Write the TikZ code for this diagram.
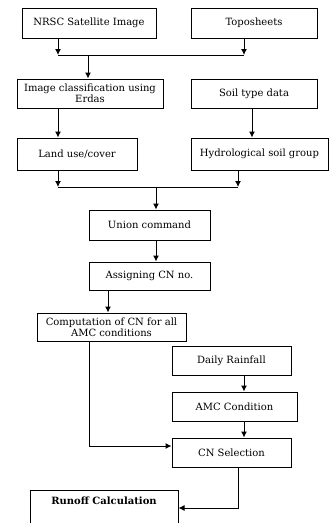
\documentclass[tikz,border=0pt]{standalone}
\usepackage{fontspec}
\setmainfont{DejaVu Serif}
\usepackage{tikz}
\usetikzlibrary{arrows.meta, positioning}

\begin{document}
\begin{tikzpicture}[
    x=1pt, y=-1pt,
    font=\fontsize{10}{11}\selectfont,
    box/.style={rectangle, draw=black, line width=1pt, text centered, align=center, minimum height=29pt, inner sep=2pt},
    arrow/.style={-{Latex[length=6pt, width=6pt]}, line width=1pt},
    link/.style={line width=1pt}
]

\clip (0,0) rectangle (330,523);

\node[box, minimum width=134pt, minimum height=30pt] (nrsc) at (89,23) {NRSC Satellite Image};
\node[box, minimum width=126pt, minimum height=30pt] (topo) at (254,23) {Toposheets};
\node[box, minimum width=146pt] (imgclass) at (90,93.5) {Image classification using\\Erdas};
\node[box, minimum width=126pt] (soil) at (254,93.5) {Soil type data};
\node[box, minimum width=120pt, minimum height=32pt] (landuse) at (77,154) {Land use/cover};
\node[box, minimum width=137pt, minimum height=32pt] (hsg) at (259.5,154) {Hydrological soil group};
\node[box, minimum width=121pt, minimum height=30pt] (union) at (149.5,225) {Union command};
\node[box, minimum width=121pt, minimum height=28pt] (assign) at (149.5,276) {Assigning CN no.};
\node[box, minimum width=149pt, minimum height=28pt] (compcn) at (111.5,327) {Computation of CN for all\\AMC conditions};
\node[box, minimum width=119pt] (rain) at (231.5,360.5) {Daily Rainfall};
\node[box, minimum width=125pt] (amc) at (234.5,406.5) {AMC Condition};
\node[box, minimum width=119pt] (cnsel) at (231.5,452.5) {CN Selection};
\node[box, minimum width=148pt, anchor=north, inner ysep=6pt, text depth=40pt] (runoff) at (104,490) {\textbf{Runoff Calculation}};

\coordinate (j1l) at (58,55);
\coordinate (j1r) at (244,55);
\coordinate (j1m) at (88,55);
\coordinate (j2l) at (58,187);
\coordinate (j2r) at (238,187);
\coordinate (j2m) at (156,187);
\coordinate (bend1) at (89,446);
\coordinate (bend2) at (238,508);

\draw[arrow] (nrsc.south -| j1l) -- (j1l);
\draw[arrow] (topo.south -| j1r) -- (j1r);
\draw[link] (j1l) -- (j1r);
\draw[arrow] (j1m) -- (imgclass.north -| j1m);

\draw[arrow] (imgclass.south -| j1l) -- (landuse.north -| j1l);
\draw[arrow] ([xshift=-2pt]soil.south) -- ([xshift=-2pt]soil.south |- hsg.north);

\draw[arrow] (landuse.south -| j2l) -- (j2l);
\draw[arrow] (hsg.south -| j2r) -- (j2r);
\draw[link] (j2l) -- (j2r);
\draw[arrow] (j2m) -- (union.north -| j2m);

\draw[arrow] (union.south -| j2m) -- (assign.north -| j2m);
\draw[arrow] ([xshift=-41.5pt]assign.south) -- ([xshift=-41.5pt]assign.south |- compcn.north);

\draw[arrow] (compcn.south -| bend1) -- (bend1) -- (bend1 -| cnsel.west);
\draw[arrow] (rain.south -| j1r) -- (amc.north -| j1r);
\draw[arrow] (amc.south -| j1r) -- (cnsel.north -| j1r);
\draw[arrow] (cnsel.south -| bend2) -- (bend2) -- (bend2 -| runoff.east);

\end{tikzpicture}
\end{document}
